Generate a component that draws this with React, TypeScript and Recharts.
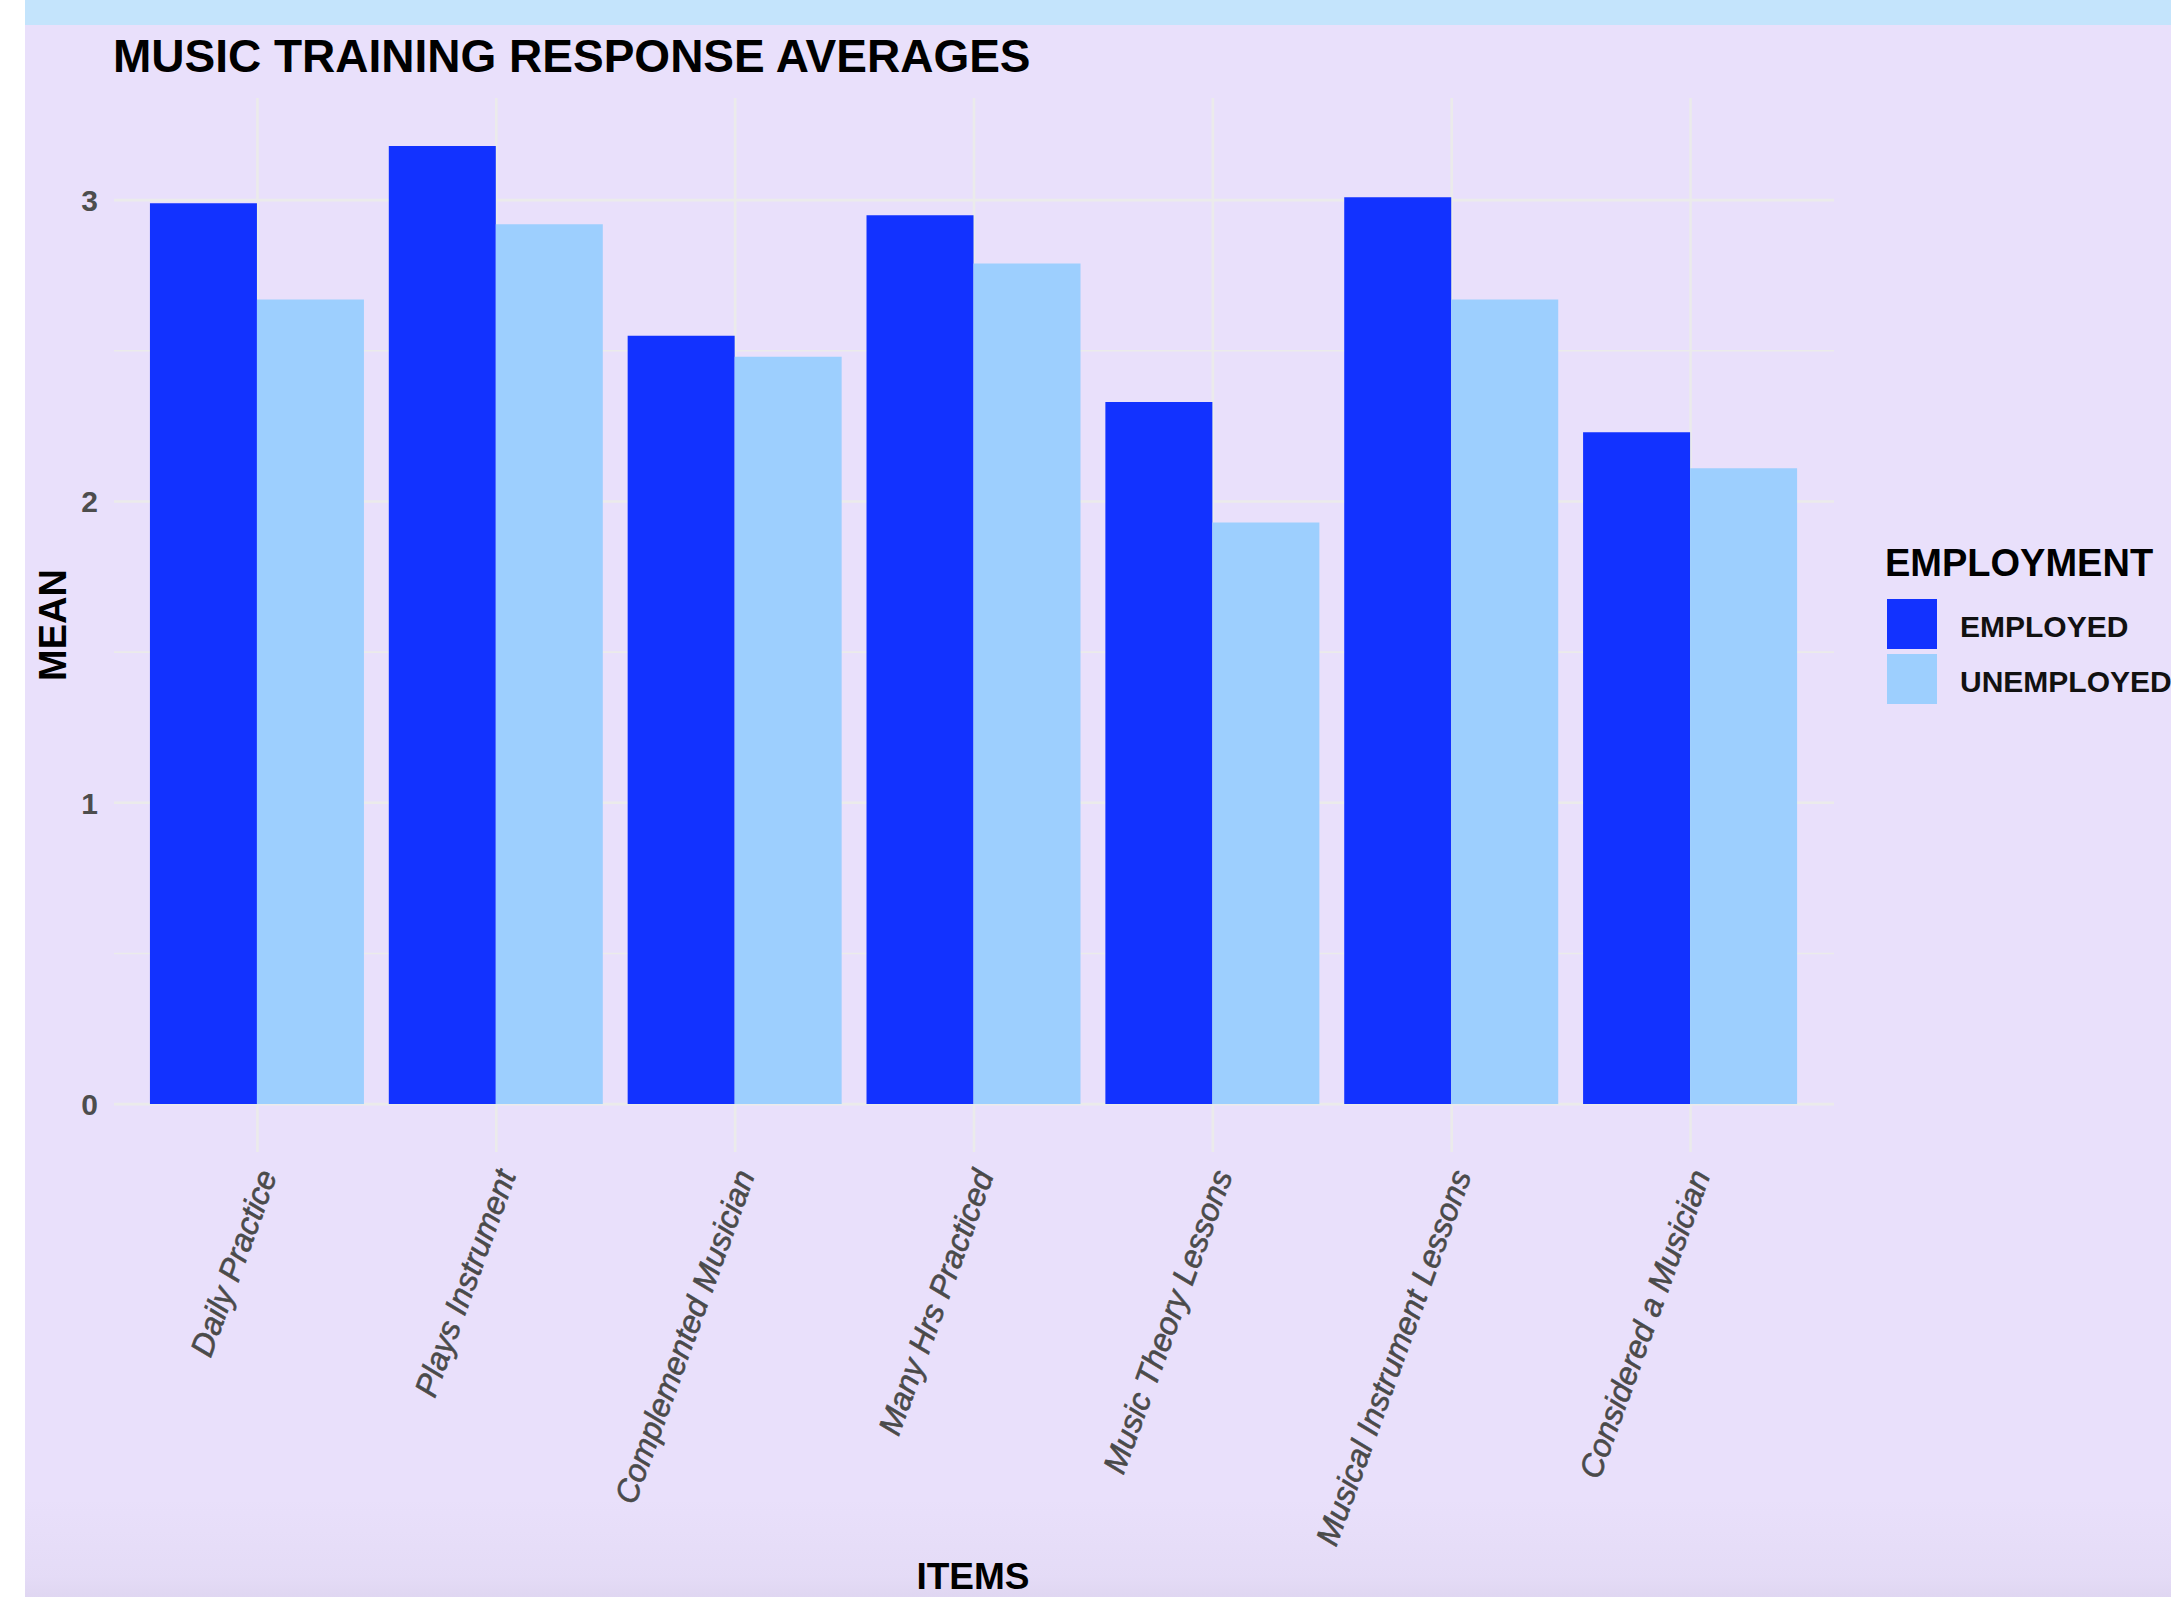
import React from 'react';
import { BarChart, Bar, XAxis, YAxis, CartesianGrid } from 'recharts';

const items = [
  'Daily Practice',
  'Plays Instrument',
  'Complemented Musician',
  'Many Hrs Practiced',
  'Music Theory Lessons',
  'Musical Instrument Lessons',
  'Considered a Musician',
];
const employed = [2.99, 3.18, 2.55, 2.95, 2.33, 3.01, 2.23];
const unemployed = [2.67, 2.92, 2.48, 2.79, 1.93, 2.67, 2.11];
const yTicks = [0, 0.5, 1, 1.5, 2, 2.5, 3];
const yDomain: [number, number] = [-0.159, 3.339];
const seriesNames = ['EMPLOYED', 'UNEMPLOYED'];
const seriesColors = ['#1232FF', '#9DCFFE'];
const chartTitle = 'MUSIC TRAINING RESPONSE AVERAGES';
const xTitle = 'ITEMS';
const yTitle = 'MEAN';
const legendTitle = 'EMPLOYMENT';

const data = items.map((item, i) => ({
  item,
  EMPLOYED: employed[i],
  UNEMPLOYED: unemployed[i],
}));

const FONT = '"Liberation Sans", Arial, Helvetica, sans-serif';
const GRID = '#EBEBEB';

const YTick = (props: any) => {
  const { x, y, payload } = props;
  if (!Number.isInteger(payload.value)) return <g />;
  return (
    <text x={x} y={y} dy="0.36em" textAnchor="end" fontFamily={FONT} fontWeight="bold" fontSize={30} fill="#4D4D4D">
      {payload.value}
    </text>
  );
};

const XTick = (props: any) => {
  const { x, y, payload } = props;
  return (
    <text
      transform={`translate(${x + 20},${y + 23}) rotate(-70)`}
      textAnchor="end"
      fontFamily={FONT}
      fontStyle="italic"
      fontSize={32}
      fill="#4A4A4A"
      stroke="#4A4A4A"
      strokeWidth={0.6}
    >
      {payload.value}
    </text>
  );
};

const HLine = (props: any) => {
  const { x1, x2, y1, y2, y, height } = props;
  if (Math.abs(y1 - y) < 1 || Math.abs(y1 - (y + height)) < 1) return <g />;
  const value = yDomain[1] - ((y1 - y) / height) * (yDomain[1] - yDomain[0]);
  const major = Math.abs(value - Math.round(value)) < 0.2;
  return <line x1={x1} x2={x2} y1={y1} y2={y2} stroke={GRID} strokeWidth={major ? 2.6 : 1.6} />;
};

const VLine = (props: any) => {
  const { x1, x2, y1, y2, x, width } = props;
  if (Math.abs(x1 - x) < 1 || Math.abs(x1 - (x + width)) < 1) return <g />;
  return <line x1={x1} x2={x2} y1={y1} y2={y2} stroke={GRID} strokeWidth={2.6} />;
};

export default function App() {
  return (
    <div style={{ position: 'absolute', left: 0, top: 0, width: 2171, height: 1597, background: '#E9E0FB', overflow: 'hidden' }}>
      <div style={{ position: 'absolute', left: 0, top: 0, width: 25, height: 1597, background: '#FFFFFF' }} />
      <div style={{ position: 'absolute', left: 25, top: 0, width: 2146, height: 25, background: '#C4E4FC' }} />
      <div
        style={{
          position: 'absolute',
          left: 25,
          top: 1497,
          width: 2146,
          height: 100,
          background: 'linear-gradient(to bottom, rgba(110,100,130,0) 0%, rgba(110,100,130,0.04) 80%, rgba(110,100,130,0.08) 100%)',
        }}
      />
      <div style={{ position: 'absolute', left: 0, top: 0 }}>
        <BarChart
          width={2171}
          height={1597}
          data={data}
          margin={{ top: 98, right: 337, bottom: 0, left: 0 }}
          barCategoryGap="5%"
          barGap={0}
        >
          <CartesianGrid horizontal={HLine} vertical={VLine} />
          <XAxis
            dataKey="item"
            type="category"
            interval={0}
            height={445}
            axisLine={false}
            tickLine={false}
            tickSize={0}
            tickMargin={0}
            padding={{ left: 24, right: 24 }}
            tick={<XTick />}
          />
          <YAxis
            type="number"
            domain={yDomain}
            ticks={yTicks}
            width={114}
            axisLine={false}
            tickLine={false}
            tickSize={0}
            tickMargin={16}
            interval={0}
            tick={<YTick />}
          />
          {seriesNames.map((name, i) => (
            <Bar key={name} dataKey={name} fill={seriesColors[i]} isAnimationActive={false} />
          ))}
        </BarChart>
      </div>
      <svg width={2171} height={1597} style={{ position: 'absolute', left: 0, top: 0, pointerEvents: 'none' }}>
        <text x={113} y={72} fontFamily={FONT} fontWeight="bold" fontSize={46} fill="#000">
          {chartTitle}
        </text>
        <text transform="translate(66,625) rotate(-90)" textAnchor="middle" fontFamily={FONT} fontWeight="bold" fontSize={38} fill="#000">
          {yTitle}
        </text>
        <text x={973} y={1589} textAnchor="middle" fontFamily={FONT} fontWeight="bold" fontSize={37} fill="#000">
          {xTitle}
        </text>
        <text x={1885} y={576} fontFamily={FONT} fontWeight="bold" fontSize={38} fill="#000">
          {legendTitle}
        </text>
        {seriesNames.map((name, i) => (
          <g key={name}>
            <rect x={1887} y={599 + i * 55} width={50} height={50} fill={seriesColors[i]} />
            <text x={1960} y={637 + i * 55} fontFamily={FONT} fontWeight="bold" fontSize={30} fill="#111">
              {name}
            </text>
          </g>
        ))}
      </svg>
    </div>
  );
}
